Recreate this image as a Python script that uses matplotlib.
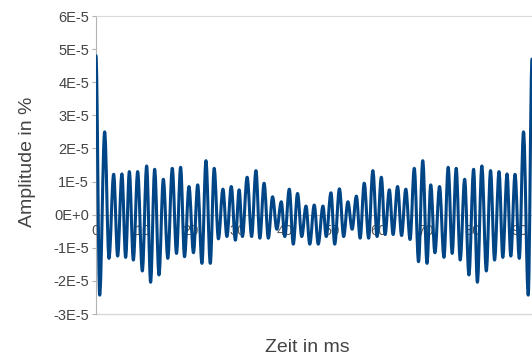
import matplotlib.pyplot as plt
from matplotlib.path import Path
from matplotlib.patches import PathPatch

plt.rcParams['font.family'] = ['Liberation Sans', 'DejaVu Sans']

# Extrema of the waveform (time in ms, amplitude in 1E-5 %)
zeit = [0.0, 0.78, 1.84, 2.76, 3.75, 4.6, 5.5, 6.3, 7.08, 7.93,
        8.85, 9.84, 10.76, 11.6, 12.46, 13.38, 14.3, 15.25, 16.2, 17.1,
        17.97, 18.8, 19.75, 20.7, 21.6, 22.5, 23.35, 24.27, 25.1, 26.0,
        26.96, 27.8, 28.73, 29.6, 30.4, 31.1, 32.1, 33.05, 33.97, 34.8,
        35.7, 36.6, 37.5, 38.4, 39.35, 40.1, 41.05, 41.9, 42.8, 43.7,
        44.6, 45.4, 46.35, 47.2, 48.2, 48.9, 49.9, 50.7, 51.7, 52.6,
        53.5, 54.4, 55.3, 56.1, 56.97, 57.9, 58.8, 59.7, 60.6, 61.4,
        62.3, 63.1, 64.05, 64.9, 65.8, 66.7, 67.6, 68.5, 69.4, 70.3,
        71.1, 71.98, 72.96, 73.9, 74.8, 75.65, 76.5, 77.35, 78.3, 79.2,
        80.2, 81.0, 81.95, 82.9, 83.8, 84.65, 85.6, 86.4, 87.3, 88.1,
        89.0, 89.9, 90.8, 91.8, 92.6]
amp_e5 = [4.8, -2.43, 2.5, -1.32, 1.22, -1.25, 1.23, -1.29, 1.30, -1.37,
          1.30, -1.70, 1.47, -2.04, 1.37, -1.82, 1.07, -1.32, 1.40, -1.17,
          1.43, -1.27, 0.85, -1.15, 0.90, -1.47, 1.63, -1.47, 1.40, -0.73,
          0.77, -0.66, 0.85, -0.77, 0.75, -0.66, 1.13, -0.66, 1.33, -0.71,
          0.95, -0.71, 0.54, -0.44, 0.39, -0.66, 0.77, -0.89, 0.64, -0.66,
          0.26, -0.89, 0.29, -0.89, 0.26, -0.66, 0.66, -0.89, 0.78, -0.66,
          0.39, -0.44, 0.56, -0.71, 0.95, -0.71, 1.33, -0.66, 1.13, -0.6,
          0.75, -0.6, 0.85, -0.63, 0.77, -0.75, 1.40, -1.42, 1.63, -1.47,
          0.90, -1.15, 0.85, -1.29, 1.43, -1.17, 1.40, -1.37, 1.07, -1.82,
          1.37, -2.04, 1.47, -1.70, 1.33, -1.37, 1.30, -1.29, 1.23, -1.25,
          1.22, -1.32, 2.5, -2.43, 4.7]
amplitude = [a * 1e-5 for a in amp_e5]

x_ticks = [0, 10, 20, 30, 40, 50, 60, 70, 80, 90]
y_ticks = [-3e-5, -2e-5, -1e-5, 0, 1e-5, 2e-5, 3e-5, 4e-5, 5e-5, 6e-5]
y_labels = ['-3E-5', '-2E-5', '-1E-5', '0E+0', '1E-5', '2E-5', '3E-5', '4E-5', '5E-5', '6E-5']

W, H = 532, 356
fig = plt.figure(figsize=(W / 100, H / 100), dpi=100)
ax = fig.add_axes([96 / W, 1 - 314 / H, 1 - 96 / W, 298 / H])
ax.set_xlim(0, 92.6)
ax.set_ylim(-3e-5, 6e-5)

# smooth line through the extrema (horizontal tangent at each peak)
verts = [(zeit[0], amplitude[0])]
codes = [Path.MOVETO]
for i in range(1, len(zeit)):
    t0, a0 = zeit[i - 1], amplitude[i - 1]
    t1, a1 = zeit[i], amplitude[i]
    d = (t1 - t0) * 0.36
    verts += [(t0 + d, a0), (t1 - d, a1), (t1, a1)]
    codes += [Path.CURVE4] * 3
ax.add_patch(PathPatch(Path(verts, codes), facecolor='none', edgecolor='#004586',
                       lw=2.2, zorder=3, capstyle='round', joinstyle='round'))

ax.set_axisbelow(True)
for s in ['left', 'top', 'bottom']:
    ax.spines[s].set_zorder(0.5)
ax.spines['right'].set_visible(False)
ax.spines['left'].set_color('#b3b3b3')
ax.spines['top'].set_color('#d9d9d9')
ax.spines['bottom'].set_position(('data', 0))
ax.spines['bottom'].set_color('#b3b3b3')
ax.axhline(-3e-5, color='#d9d9d9', lw=1, zorder=0.5, clip_on=False)

ax.set_xticks(x_ticks)
ax.set_xticklabels([str(t) for t in x_ticks])
ax.set_yticks(y_ticks)
ax.set_yticklabels(y_labels)
ax.tick_params(axis='x', length=0, pad=7, labelsize=10.5, labelcolor='#555555')
ax.tick_params(axis='y', length=3, width=0.8, color='#b3b3b3', pad=2,
               labelsize=10.5, labelcolor='#444444')

fig.text(28 / W, 1 - 162 / H, 'Amplitude in %', rotation=90, fontsize=14,
         color='#444444', ha='center', va='center')
fig.text(307 / W, 1 - 347 / H, 'Zeit in ms', fontsize=14,
         color='#444444', ha='center', va='center')

fig.savefig('out.png', dpi=100)
